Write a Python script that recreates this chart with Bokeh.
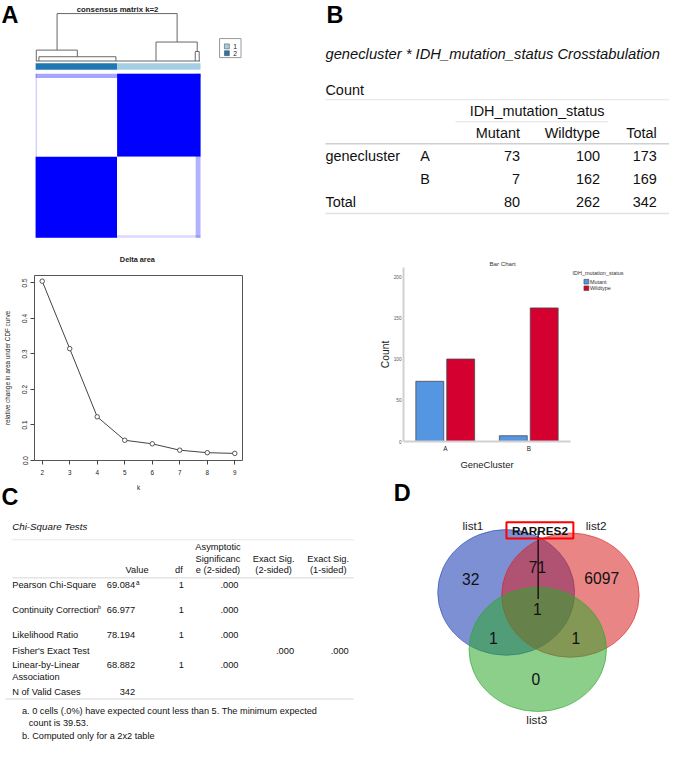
import numpy as np
from bokeh.plotting import figure
from bokeh.layouts import column, row
from bokeh.models import Range1d, FixedTicker, PrintfTickFormatter, FactorRange, ColumnDataSource
from bokeh.transform import dodge
from bokeh.core.properties import value
from bokeh.embed import file_html
from bokeh.resources import INLINE

# ---------------- data ----------------
cluster_sizes = [169, 173]            # consensus clusters shown left -> right
cluster_colors = ["#1f78b4", "#a6cee3"]
legend_labels = ["1", "2"]
legend_colors = ["#a6cee3", "#1f78b4"]
consensus = [[0.0, 1.0], [1.0, 0.0]]  # block values, rows top -> bottom
dendro_merges = [                     # (x_left, x_right, height, h_left_child, h_right_child)
    (0.130, 0.858, 1.00, 0.23, 0.40),
    (0.004, 0.253, 0.23, 0.00, 0.09),
    (0.020, 0.487, 0.09, 0.00, 0.00),
    (0.730, 0.980, 0.40, 0.00, 0.20),
    (0.968, 0.992, 0.20, 0.00, 0.00),
]

k_values = [2, 3, 4, 5, 6, 7, 8, 9]
delta_area = [0.505, 0.315, 0.123, 0.057, 0.047, 0.029, 0.022, 0.020]
delta_yticks = [0.0, 0.1, 0.2, 0.3, 0.4, 0.5]

genecluster = ["A", "B"]
idh_status = ["Mutant", "Wildtype"]
mutant_counts = [73, 7]
wildtype_counts = [100, 162]
bar_colors = ["#5596e3", "#d4002f"]
count_ticks = [0, 50, 100, 150, 200]

chi_labels = ["Pearson Chi-Square", "Continuity Correction", "Likelihood Ratio",
              "Fisher's Exact Test", "Linear-by-Linear", "N of Valid Cases"]
chi_label2 = ["", "", "", "", "Association", ""]
chi_label_sup = ["", "b", "", "", "", ""]
chi_value = ["69.084", "66.977", "78.194", "", "68.882", "342"]
chi_value_sup = ["a", "", "", "", "", ""]
chi_df = ["1", "1", "1", "", "1", ""]
chi_asymp = [".000", ".000", ".000", "", ".000", ""]
chi_exact2 = ["", "", "", ".000", "", ""]
chi_exact1 = ["", "", "", ".000", "", ""]
chi_notes = ["a. 0 cells (.0%) have expected count less than 5. The minimum expected",
             "count is 39.53.",
             "b. Computed only for a 2x2 table"]

venn_sets = ["list1", "list2", "list3"]
venn_set_colors = ["#2846b8", "#d92121", "#2ca82c"]
venn_regions = ["1", "2", "3", "12", "13", "23", "123"]
venn_counts = [32, 6097, 0, 71, 1, 1, 1]
highlight_gene = "RARRES2"

# ---------------- helpers ----------------
S = 669 / 685
FONT = "Liberation Sans"


def px(v):
    return f"{v * S:.2f}px"


def canvas(x0, x1, y0, y1, w, h, transparent=False, **kw):
    p = figure(width=w, height=h, x_range=Range1d(x0, x1), y_range=Range1d(y1, y0),
               output_backend="svg", toolbar_location=None,
               x_axis_location=None, y_axis_location=None,
               min_border_left=0, min_border_right=0, min_border_top=0, min_border_bottom=0, **kw)
    p.grid.visible = False
    p.outline_line_color = None
    if transparent:
        p.background_fill_color = None
        p.border_fill_color = None
    else:
        p.background_fill_color = "white"
        p.border_fill_color = "white"
    return p


def txt(p, x, y, t, size, align="left", style="normal", color="#111111", baseline="middle"):
    p.text(x=[x], y=[y], text=[t], text_font=value(FONT), text_font_size=px(size),
           text_align=align, text_baseline=baseline, text_font_style=style, text_color=color)


def hline(p, x0, x1, y, color="#dddddd", w=1.0):
    p.line(x=[x0, x1], y=[y, y], line_color=color, line_width=w)


# ---------------- panel A ----------------
pA = canvas(0, 330, 0, 250, 322, 244)
txt(pA, 1, 15, "A", 24, style="bold", color="#000000")
txt(pA, 120, 9.5, "consensus matrix k=2", 8, align="center", style="bold", color="#222222")

HX0, HX1, HY0, HY1 = 36, 205, 75, 243
tot = sum(cluster_sizes)
xe = [HX0 + (HX1 - HX0) * c / tot for c in np.cumsum([0] + cluster_sizes)]
ye = [HY0 + (HY1 - HY0) * c / tot for c in np.cumsum([0] + cluster_sizes[::-1])]
L, R, T, B, C = [], [], [], [], []
for i in range(2):
    for j in range(2):
        L.append(xe[j]); R.append(xe[j + 1]); T.append(ye[i]); B.append(ye[i + 1])
        C.append("#0000ff" if consensus[i][j] > 0.5 else "#ffffff")
pA.quad(left=L, right=R, top=T, bottom=B, fill_color=C, line_color=None)
pA.quad(left=[HX0, HX1 - 5, HX0, HX0], right=[HX1, HX1, HX0 + 1.3, HX1],
        top=[HY0, HY0, HY0, HY1 - 2.5], bottom=[HY0 + 4.5, HY1, HY1, HY1],
        fill_color="#0000ff", fill_alpha=[0.35, 0.3, 0.2, 0.15], line_color=None)
pA.quad(left=xe[:-1], right=xe[1:], top=[64.3] * 2, bottom=[71] * 2,
        fill_color=cluster_colors, line_color=None)
DB, DH = 62, 48.6
xs, ys = [], []
for xl, xr, h, hl, hr in dendro_merges:
    X1 = HX0 + xl * (HX1 - HX0); X2 = HX0 + xr * (HX1 - HX0)
    xs.append([X1, X1, X2, X2]); ys.append([DB - hl * DH, DB - h * DH, DB - h * DH, DB - hr * DH])
xs.append([HX0 + 0.5, HX1 - 0.5]); ys.append([DB, DB])
pA.multi_line(xs=xs, ys=ys, line_color="#666666", line_width=1)
pA.quad(left=[224.5], right=[246.5], top=[39], bottom=[58.5], fill_color=None, line_color="#999999", line_width=1)
pA.quad(left=[229.5, 229.5], right=[234.5, 234.5], top=[44.5, 51.5], bottom=[49.5, 56.5],
        fill_color=legend_colors, line_color="#555555", line_width=0.6)
for lab, yy in zip(legend_labels, [47, 54]):
    txt(pA, 238.5, yy, lab, 7, color="#222222")

# ---------------- panel B ----------------
TB = 14.8
pB = canvas(330, 685, 0, 250, 347, 244)
txt(pB, 334, 15, "B", 24, style="bold", color="#000000")
txt(pB, 333, 55, "genecluster * IDH_mutation_status Crosstabulation", 15.1, style="italic")
txt(pB, 333, 91.7, "Count", TB)
hline(pB, 333, 685, 101.7, "#e2e2e2", 1)
txt(pB, 549.5, 113.3, "IDH_mutation_status", TB, align="center")
hline(pB, 466, 622, 124.3, "#e2e2e2", 1)
col_right = [532, 614, 672]
for t, xr in zip(idh_status + ["Total"], col_right):
    txt(pB, xr, 136, t, TB, align="right")
hline(pB, 333, 685, 146.7, "#d0d0d0", 1.5)
row_y = [159, 182.7]
txt(pB, 333, row_y[0], "genecluster", TB)
for g, yy, m, w in zip(genecluster, row_y, mutant_counts, wildtype_counts):
    txt(pB, 430, yy, g, TB)
    for v, xr in zip([m, w, m + w], col_right):
        txt(pB, xr, yy, str(v), TB, align="right")
txt(pB, 333, 206, "Total", TB)
tot_m, tot_w = sum(mutant_counts), sum(wildtype_counts)
for v, xr in zip([tot_m, tot_w, tot_m + tot_w], col_right):
    txt(pB, xr, 206, str(v), TB, align="right")
hline(pB, 333, 685, 218.3, "#e2e2e2", 1.5)

# ---------------- delta area plot ----------------
pDT = canvas(0, 365, 250, 281.7, 356, 31)           # holds the plot title
txt(pDT, 140.3, 265.7, "Delta area", 7.5, align="center", style="bold", color="#222222")

pDel = figure(width=356, height=252, x_range=Range1d(1.72, 9.28), y_range=Range1d(0, 0.521),
              output_backend="svg", toolbar_location=None, margin=(-31, 0, 0, 0),
              min_border_left=33, min_border_right=114, min_border_top=31, min_border_bottom=36)
pDel.grid.visible = False
pDel.border_fill_color = None
pDel.background_fill_color = "white"
pDel.outline_line_color = "#555555"
pDel.outline_line_width = 1
pDel.xaxis.ticker = FixedTicker(ticks=k_values)
pDel.yaxis.ticker = FixedTicker(ticks=delta_yticks)
pDel.yaxis.formatter = PrintfTickFormatter(format="%.1f")
pDel.xaxis.axis_label = "k"
pDel.yaxis.axis_label = "relative change in area under CDF curve"
pDel.yaxis.major_label_orientation = "vertical"
for ax in (pDel.xaxis[0], pDel.yaxis[0]):
    ax.axis_line_color = None
    ax.major_tick_line_color = "#444444"
    ax.major_tick_out = 4
    ax.major_tick_in = 0
    ax.minor_tick_line_color = None
    ax.major_label_text_font = FONT
    ax.major_label_text_font_size = px(6.5)
    ax.major_label_text_color = "#222222"
    ax.axis_label_text_font = FONT
    ax.axis_label_text_font_size = px(6.5)
    ax.axis_label_text_font_style = "normal"
    ax.axis_label_text_color = "#222222"
pDel.yaxis.major_label_standoff = 3
pDel.yaxis.axis_label_standoff = 9
pDel.xaxis.major_label_standoff = 5
pDel.xaxis.axis_label_standoff = 6
pDel.line(x=k_values, y=delta_area, line_color="#444444", line_width=1)
pDel.scatter(x=k_values, y=delta_area, marker="circle", size=4.5, fill_color="white",
             line_color="#444444", line_width=0.9)

# ---------------- panel C (transparent, overlaps the margin below the delta plot) ----------------
FC = 9.5
pC = canvas(0, 365, 487.7, 759, 356, 265, transparent=True, margin=(-20, 0, 0, 0))
txt(pC, 1, 509, "C", 24, style="bold", color="#000000")
txt(pC, 12, 539.3, "Chi-Square Tests", 10, style="italic")
hline(pC, 12, 362, 552.5, "#e6e6e6", 1)
txt(pC, 140, 583.5, "Value", FC, align="center")
txt(pC, 183, 583.5, "df", FC, align="center")
for t, yy in zip(["Asymptotic", "Significanc", "e (2-sided)"], [560, 572, 583.5]):
    txt(pC, 223, yy, t, FC, align="center")
for t, yy in zip(["Exact Sig.", "(2-sided)"], [572, 583.5]):
    txt(pC, 280, yy, t, FC, align="center")
for t, yy in zip(["Exact Sig.", "(1-sided)"], [572, 583.5]):
    txt(pC, 336, yy, t, FC, align="center")
hline(pC, 12, 362, 591.5, "#d6d6d6", 1)
chi_y = [599, 624, 650, 666, 681, 708]
for i, yy in enumerate(chi_y):
    txt(pC, 12, yy, chi_labels[i], FC)
    if chi_label2[i]:
        txt(pC, 12, yy + 12, chi_label2[i], FC)
    if chi_label_sup[i]:
        txt(pC, 100, yy - 3, chi_label_sup[i], 5.5)
    txt(pC, 138, yy, chi_value[i], FC, align="right")
    if chi_value_sup[i]:
        txt(pC, 139, yy - 3, chi_value_sup[i], 6.5)
    txt(pC, 188, yy, chi_df[i], FC, align="right")
    txt(pC, 244, yy, chi_asymp[i], FC, align="right")
    txt(pC, 301, yy, chi_exact2[i], FC, align="right")
    txt(pC, 357, yy, chi_exact1[i], FC, align="right")
hline(pC, 5, 362, 715.5, "#d6d6d6", 1)
for t, xx, yy in zip(chi_notes, [22, 29, 22], [728, 740, 753]):
    txt(pC, xx, yy, t, 9.4)

# ---------------- bar chart ----------------
src = ColumnDataSource(dict(cluster=genecluster, Mutant=mutant_counts, Wildtype=wildtype_counts))
pBar = figure(width=215, height=231, x_range=FactorRange(factors=genecluster), y_range=Range1d(0, 211),
              output_backend="svg", toolbar_location=None,
              min_border_left=47, min_border_right=1, min_border_top=23, min_border_bottom=34)
pBar.grid.visible = False
pBar.outline_line_color = None
pBar.title.text = "Bar Chart"
pBar.title.align = "left"
pBar.title.offset = 86
pBar.title.text_font = FONT
pBar.title.text_font_size = px(6.3)
pBar.title.text_font_style = "normal"
pBar.title.text_color = "#333333"
pBar.title.standoff = 2
for status, off, col in zip(idh_status, [-0.185, 0.185], bar_colors):
    pBar.vbar(x=dodge("cluster", off, range=pBar.x_range), top=status, width=0.334, source=src,
              fill_color=col, line_color="#4a4a4a", line_width=0.8)
pBar.yaxis.ticker = FixedTicker(ticks=count_ticks)
pBar.yaxis.axis_label = "Count"
pBar.xaxis.axis_label = "GeneCluster"
for ax in (pBar.xaxis[0], pBar.yaxis[0]):
    ax.axis_line_color = "#d0d0d0"
    ax.axis_line_width = 2
    ax.major_tick_line_color = None
    ax.major_tick_out = 0
    ax.major_tick_in = 0
    ax.minor_tick_line_color = None
    ax.major_label_text_font = FONT
    ax.axis_label_text_font = FONT
    ax.axis_label_text_font_style = "normal"
    ax.axis_label_text_color = "#222222"
pBar.yaxis.major_label_text_font_size = px(4.8)
pBar.yaxis.major_label_text_color = "#555555"
pBar.yaxis.major_label_standoff = 2
pBar.yaxis.axis_label_text_font_size = px(10.6)
pBar.yaxis.axis_label_standoff = 0
pBar.xaxis.major_label_text_font_size = px(6.5)
pBar.xaxis.major_label_text_color = "#222222"
pBar.xaxis.major_label_standoff = 3
pBar.xaxis.axis_label_text_font_size = px(9.7)
pBar.xaxis.axis_label_standoff = 4

pL = canvas(585, 685, 250, 486, 98, 231)
txt(pL, 586, 279.3, "IDH_mutation_status", 5.6, color="#333333")
for status, col, yy in zip(idh_status, bar_colors, [288, 294.7]):
    pL.quad(left=[597.7], right=[602.7], top=[yy - 2.4], bottom=[yy + 2.4], fill_color=col,
            line_color="#4a4a4a", line_width=0.6)
    txt(pL, 603.8, yy, status, 5.6, color="#333333")

# ---------------- panel D ----------------
pD = canvas(365, 685, 486, 759, 313, 266)
txt(pD, 403, 504, "D", 24, style="bold", color="#000000")
ell_x = [518, 583.7, 550.3]
ell_y = [606, 608.8, 664.5]
ell_w = [140, 140.6, 140.6]
ell_h = [129, 127.6, 127.6]
pD.ellipse(x=ell_x, y=ell_y, width=ell_w, height=ell_h, fill_color=venn_set_colors,
           fill_alpha=[0.6, 0.55, 0.55], line_color=venn_set_colors, line_alpha=0.6, line_width=1)
for name, xx, yy in zip(venn_sets, [484, 610, 549.3], [537.3, 537.3, 736]):
    txt(pD, xx, yy, name, 12, align="center", color="#222222")
reg_x = [481.7, 615.7, 548.3, 550, 505, 589.3, 550]
reg_y = [592.7, 591.7, 695, 580, 652.7, 652.7, 623.3]
for c, xx, yy in zip(venn_counts, reg_x, reg_y):
    txt(pD, xx, yy, str(c), 16, align="center", color="#111111")
pD.line(x=[550.7, 550.7], y=[543.3, 612.7], line_color="#000000", line_width=1.2)
pD.quad(left=[518.3], right=[586.7], top=[534], bottom=[550.7], fill_color=None,
        line_color="#ff0000", line_width=2)
txt(pD, 552.5, 542.8, highlight_gene, 12, align="center", style="bold", color="#111111")

# ---------------- layout ----------------
left_col = column(row(pDT), row(pDel), row(pC))
right_col = column(row(pBar, column(pL)), row(pD))
layout = column(row(pA, pB), row(left_col, right_col))
open("out.html", "w").write(file_html(layout, INLINE))
